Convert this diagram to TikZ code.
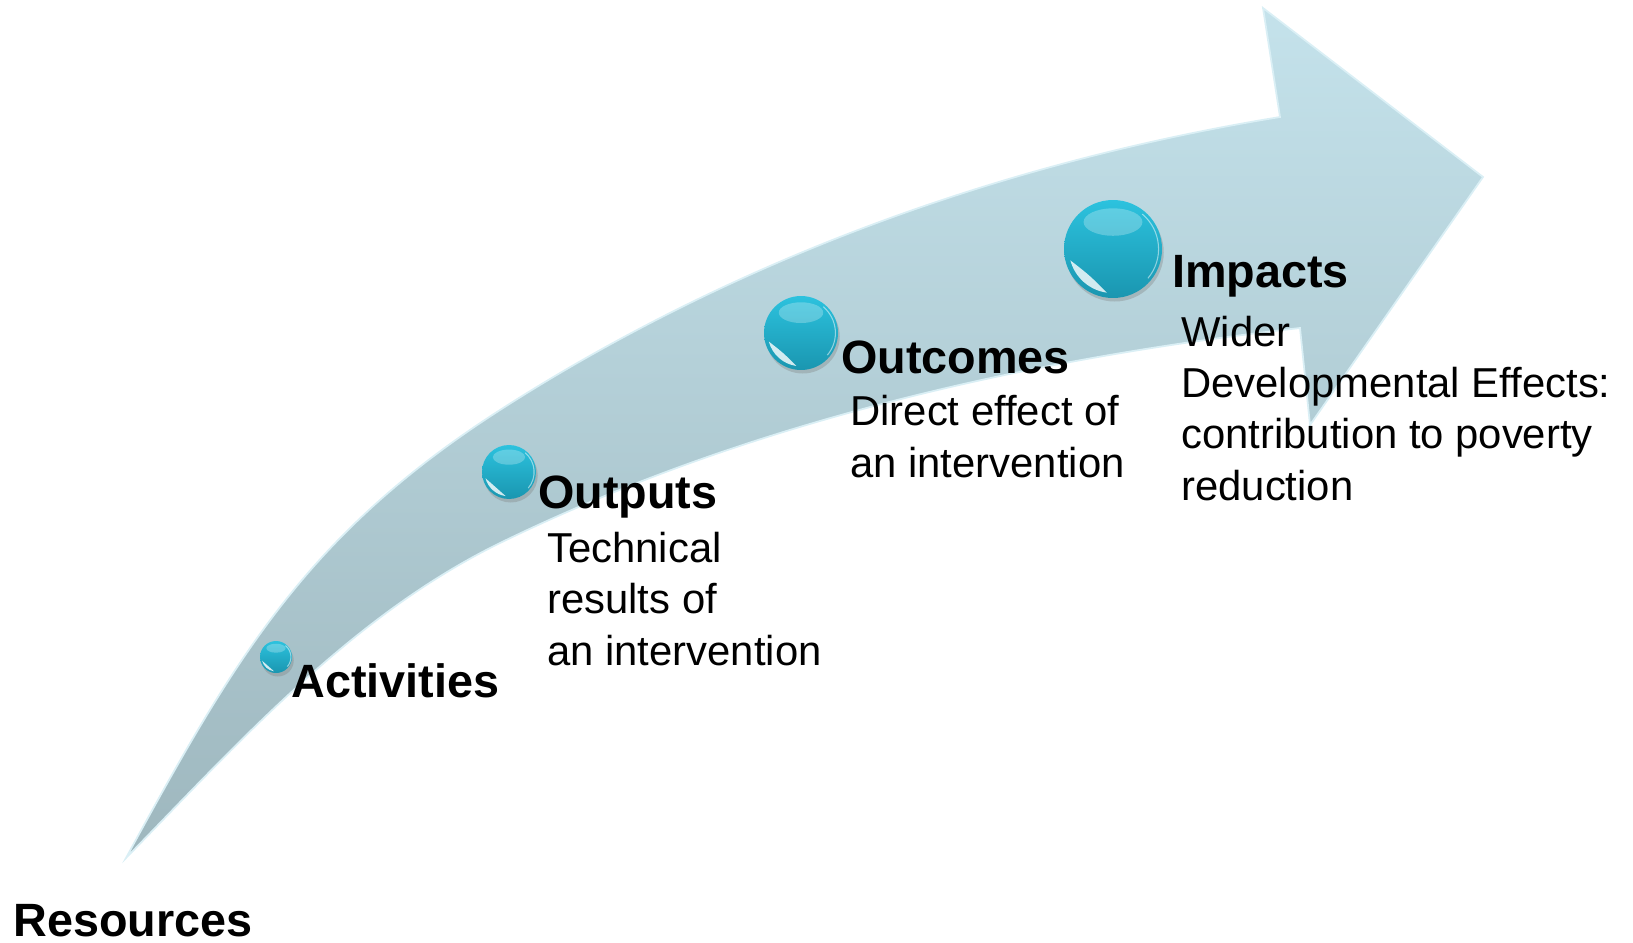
\documentclass[tikz,border=0pt]{standalone}
\usepackage{fontspec}
\setmainfont{Liberation Sans}
\usetikzlibrary{shadows}

\definecolor{arrowtop}{RGB}{196,226,235}
\definecolor{arrowmid}{RGB}{184,213,222}
\definecolor{arrowbot}{RGB}{158,183,190}
\definecolor{arrowrim}{RGB}{218,239,245}
\definecolor{beadtop}{RGB}{44,194,222}
\definecolor{beadbot}{RGB}{26,150,176}

% glossy highlights on a bead: #1 node name, #2 radius in px
\newcommand{\beadshine}[2]{%
  \begin{scope}[shift={(#1)}, x=0.02cm, y=0.02cm]
    \fill[white, opacity=0.8] (195:{0.9*#2}) arc[start angle=195, end angle=262, radius={0.9*#2}]
      .. controls (228:{0.72*#2}) .. (195:{0.9*#2}) -- cycle;
    \fill[white, opacity=0.25] (0,{0.55*#2}) ellipse ({0.6*#2} and {0.28*#2});
    \draw[white, opacity=0.5, line width=0.6pt] (-40:{0.93*#2}) arc[start angle=-40, end angle=50, radius={0.93*#2}];
  \end{scope}}

\begin{document}
\begin{tikzpicture}[x=0.02cm, y=-0.02cm,
    bead/.style={circle, inner sep=0pt, top color=beadtop, bottom color=beadbot,
      drop shadow={shadow xshift=1pt, shadow yshift=-2pt, opacity=0.35}},
    stage/.style={anchor=base west, inner sep=0pt, font=\fontsize{26.6}{30}\selectfont\bfseries},
    note/.style={anchor=base west, inner sep=0pt, align=left, font=\fontsize{23.8}{29.2}\selectfont}]
    \useasboundingbox (0,0) rectangle (1633,943);

    % Curved arrow
    \shadedraw[top color=arrowtop, middle color=arrowmid, bottom color=arrowbot, draw=arrowrim, line width=1pt]
      (126,858) .. controls (236,656) and (307,534) .. (500,410)
      .. controls (735,259) and (1004,162) .. (1280,117)
      -- (1263,8) -- (1483,177) -- (1310,425) -- (1300,328)
      .. controls (1026,359) and (748,422) .. (500,543)
      .. controls (353,615) and (240,741) .. (126,858) -- cycle;

    % Beads along the arrow
    \node[bead, minimum size=0.64cm] (actdot) at (276,657) {};
    \beadshine{actdot}{16}
    \node[bead, minimum size=1.08cm] (outpdot) at (509,472) {};
    \beadshine{outpdot}{27}
    \node[bead, minimum size=1.48cm] (outcdot) at (801,333) {};
    \beadshine{outcdot}{37}
    \node[bead, minimum size=1.96cm] (impdot) at (1113,249) {};
    \beadshine{impdot}{49}

    % Stages
    \node[stage] (res) at (13,936) {Resources};
    \node[stage] (act) at (291,697) {Activities};
    \node[stage] (outp) at (538,508) {Outputs};
    \node[stage] (outc) at (841,373) {Outcomes};
    \node[stage] (imp) at (1172,287) {Impacts};

    % Descriptions (placed at the baseline of their last line)
    \node[note] (outpnote) at (547,665) {Technical\\results of\\an intervention};
    \node[note] (outcnote) at (850,477) {Direct effect of\\an intervention};
    \node[note] (impnote) at (1181,500) {Wider\\Developmental Effects:\\contribution to poverty\\reduction};
\end{tikzpicture}
\end{document}
